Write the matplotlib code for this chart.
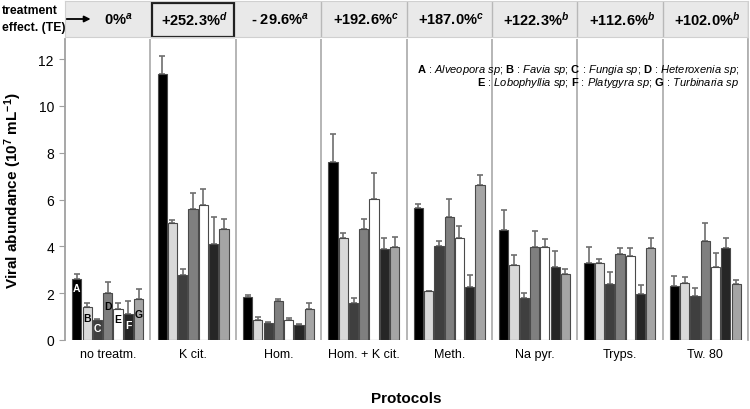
import matplotlib
matplotlib.use("Agg")
import matplotlib.pyplot as plt
import numpy as np

plt.rcParams['font.family'] = ['Liberation Sans', 'DejaVu Sans']
plt.rcParams['mathtext.fontset'] = 'custom'
plt.rcParams['mathtext.rm'] = 'Liberation Sans'
plt.rcParams['mathtext.it'] = 'Liberation Sans:italic'
plt.rcParams['mathtext.bf'] = 'Liberation Sans:bold'
plt.rcParams['mathtext.bfit'] = 'Liberation Sans:italic:bold'

categories = ["no treatm.", "K cit.", "Hom.", "Hom. + K cit.", "Meth.", "Na pyr.", "Tryps.", "Tw. 80"]
te_values = ["0%", "+252.3%", "- 29.6%", "+192.6%", "+187.0%", "+122.3%", "+112.6%", "+102.0%"]
te_letters = ["a", "d", "a", "c", "c", "b", "b", "b"]
species = ["A", "B", "C", "D", "E", "F", "G"]

A_mean = [2.62, 11.38, 1.85, 7.61, 5.63, 4.72, 3.30, 2.29]
A_err = [0.21, 0.76, 0.09, 1.21, 0.17, 0.84, 0.69, 0.45]
B_mean = [1.42, 4.99, 0.85, 4.36, 2.08, 3.19, 3.30, 2.44]
B_err = [0.18, 0.14, 0.15, 0.23, 0.03, 0.43, 0.18, 0.25]
C_mean = [0.85, 2.79, 0.71, 1.57, 4.02, 1.81, 2.41, 1.89]
C_err = [0.06, 0.26, 0.04, 0.22, 0.21, 0.19, 0.51, 0.35]
D_mean = [2.00, 5.58, 1.65, 4.73, 5.27, 3.99, 3.66, 4.22]
D_err = [0.49, 0.72, 0.09, 0.43, 0.74, 0.67, 0.29, 0.77]
E_mean = [1.34, 5.78, 0.85, 6.01, 4.36, 3.99, 3.59, 3.11]
E_err = [0.26, 0.69, 0.09, 1.11, 0.51, 0.34, 0.36, 0.62]
F_mean = [1.11, 4.10, 0.63, 3.90, 2.28, 3.12, 1.97, 3.93]
F_err = [0.57, 1.14, 0.05, 0.47, 0.48, 0.68, 0.37, 0.41]
G_mean = [1.74, 4.73, 1.31, 3.99, 6.64, 2.83, 3.93, 2.41]
G_err = [0.45, 0.43, 0.29, 0.43, 0.41, 0.19, 0.41, 0.14]

means = [A_mean, B_mean, C_mean, D_mean, E_mean, F_mean, G_mean]
errs = [A_err, B_err, C_err, D_err, E_err, F_err, G_err]
colors = ["#000000", "#d9d9d9", "#3f3f3f", "#7f7f7f", "#ffffff", "#262626", "#a5a5a5"]
letter_colors = ["white", "black", "white", "black", "black", "white", "black"]
letter_y = [2.24, 0.95, 0.53, 1.45, 0.91, 0.64, 1.12]

fig = plt.figure(figsize=(7.5, 4.1), dpi=100)
W, H = 750, 410
ax = fig.add_axes([65 / W, 1 - 341 / H, (748 - 65) / W, (341 - 40) / H])

x = np.arange(len(categories))
pitch = 0.1205
bw = 0.108
for i, sp in enumerate(species):
    pos = x + (i - 3) * pitch
    ax.bar(pos, means[i], width=bw, color=colors[i], edgecolor="#4a4a4a", linewidth=0.8, zorder=3)
    ax.errorbar(pos, means[i], yerr=[np.zeros(len(x)), errs[i]], fmt="none",
                ecolor="#6e6e6e", elinewidth=1.2, capsize=2.5, capthick=1.2, zorder=2)
    ax.text(pos[0], letter_y[i], sp, color=letter_colors[i], ha="center", va="center",
            fontsize=7.5, fontweight="bold", zorder=4)

for b in np.arange(0.5, len(categories), 1.0):
    ax.axvline(b, color="#b0b0b0", linewidth=1.3, zorder=1)

ax.set_xlim(-0.5, len(categories) - 0.5)
ax.set_ylim(0, 12.86)
ax.set_yticks([0, 2, 4, 6, 8, 10, 12])
ax.set_xticks(x)
ax.set_xticklabels(categories, fontsize=9)
ax.tick_params(axis="x", length=0, pad=6)
ax.tick_params(axis="y", direction="out", length=4, color="#a0a0a0", labelsize=10, pad=4)
for s in ["top", "bottom"]:
    ax.spines[s].set_visible(False)
ax.spines["left"].set_color("#a0a0a0")
ax.spines["right"].set_color("#b0b0b0")
ax.spines["left"].set_linewidth(1.3)
ax.spines["right"].set_linewidth(1.3)
ax.set_xlabel("Protocols", fontsize=11, fontweight="bold", labelpad=22)
ax.set_ylabel(r"Viral abundance (10$^{\mathbf{7}}$ mL$^{\mathbf{-1}}$)", fontsize=11,
              fontweight="bold", labelpad=10)

legend1 = (r"$\mathbf{A}$ : $\mathit{Alveopora\ sp}$; $\mathbf{B}$ : $\mathit{Favia\ sp}$; "
           r"$\mathbf{C}$ : $\mathit{Fungia\ sp}$; $\mathbf{D}$ : $\mathit{Heteroxenia\ sp;}$")
legend2 = (r"$\mathbf{E}$ : $\mathit{Lobophyllia\ sp}$; $\mathbf{F}$ : $\mathit{Platygyra\ sp}$; "
           r"$\mathbf{G}$ : $\mathit{Turbinaria\ sp}$")
fig.text(739 / W, 1 - 70 / H, legend1, ha="right", va="center", fontsize=8)
fig.text(739 / W, 1 - 83 / H, legend2, ha="right", va="center", fontsize=8)

# header band
hx = fig.add_axes([65 / W, 1 - 38 / H, (748 - 65) / W, 36 / H])
hx.set_xlim(-0.5, len(categories) - 0.5)
hx.set_ylim(0, 1)
hx.set_facecolor("#e9e9e9")
for s in hx.spines.values():
    s.set_color("#d0d0d0")
hx.set_xticks([])
hx.set_yticks([])
for b in np.arange(2.5, len(categories), 1.0):
    hx.axvline(b, color="#b8b8b8", linewidth=1.0)
for i, (v, l) in enumerate(zip(te_values, te_letters)):
    xc = i + 0.02 if i > 0 else 0.12
    hx.text(xc, 0.5, v + r"$^{\mathbfit{" + l + r"}}$", ha="center", va="center",
            fontsize=10.5, fontweight="bold")
hx.add_patch(plt.Rectangle((0.52, 0.0), 0.96, 0.94, fill=False, edgecolor="#202020",
                           linewidth=1.6, clip_on=False))
hx.annotate("", xy=(-0.2, 0.5), xytext=(-0.48, 0.5),
            arrowprops=dict(arrowstyle="-|>", color="black", lw=1.3, mutation_scale=9,
                            shrinkA=0, shrinkB=0))
fig.text(2 / W, 1 - 11 / H, "treatment", ha="left", va="center", fontsize=8.8, fontweight="bold")
fig.text(2 / W, 1 - 28 / H, "effect. (TE)", ha="left", va="center", fontsize=8.8, fontweight="bold")

fig.savefig("out.png", dpi=100)
